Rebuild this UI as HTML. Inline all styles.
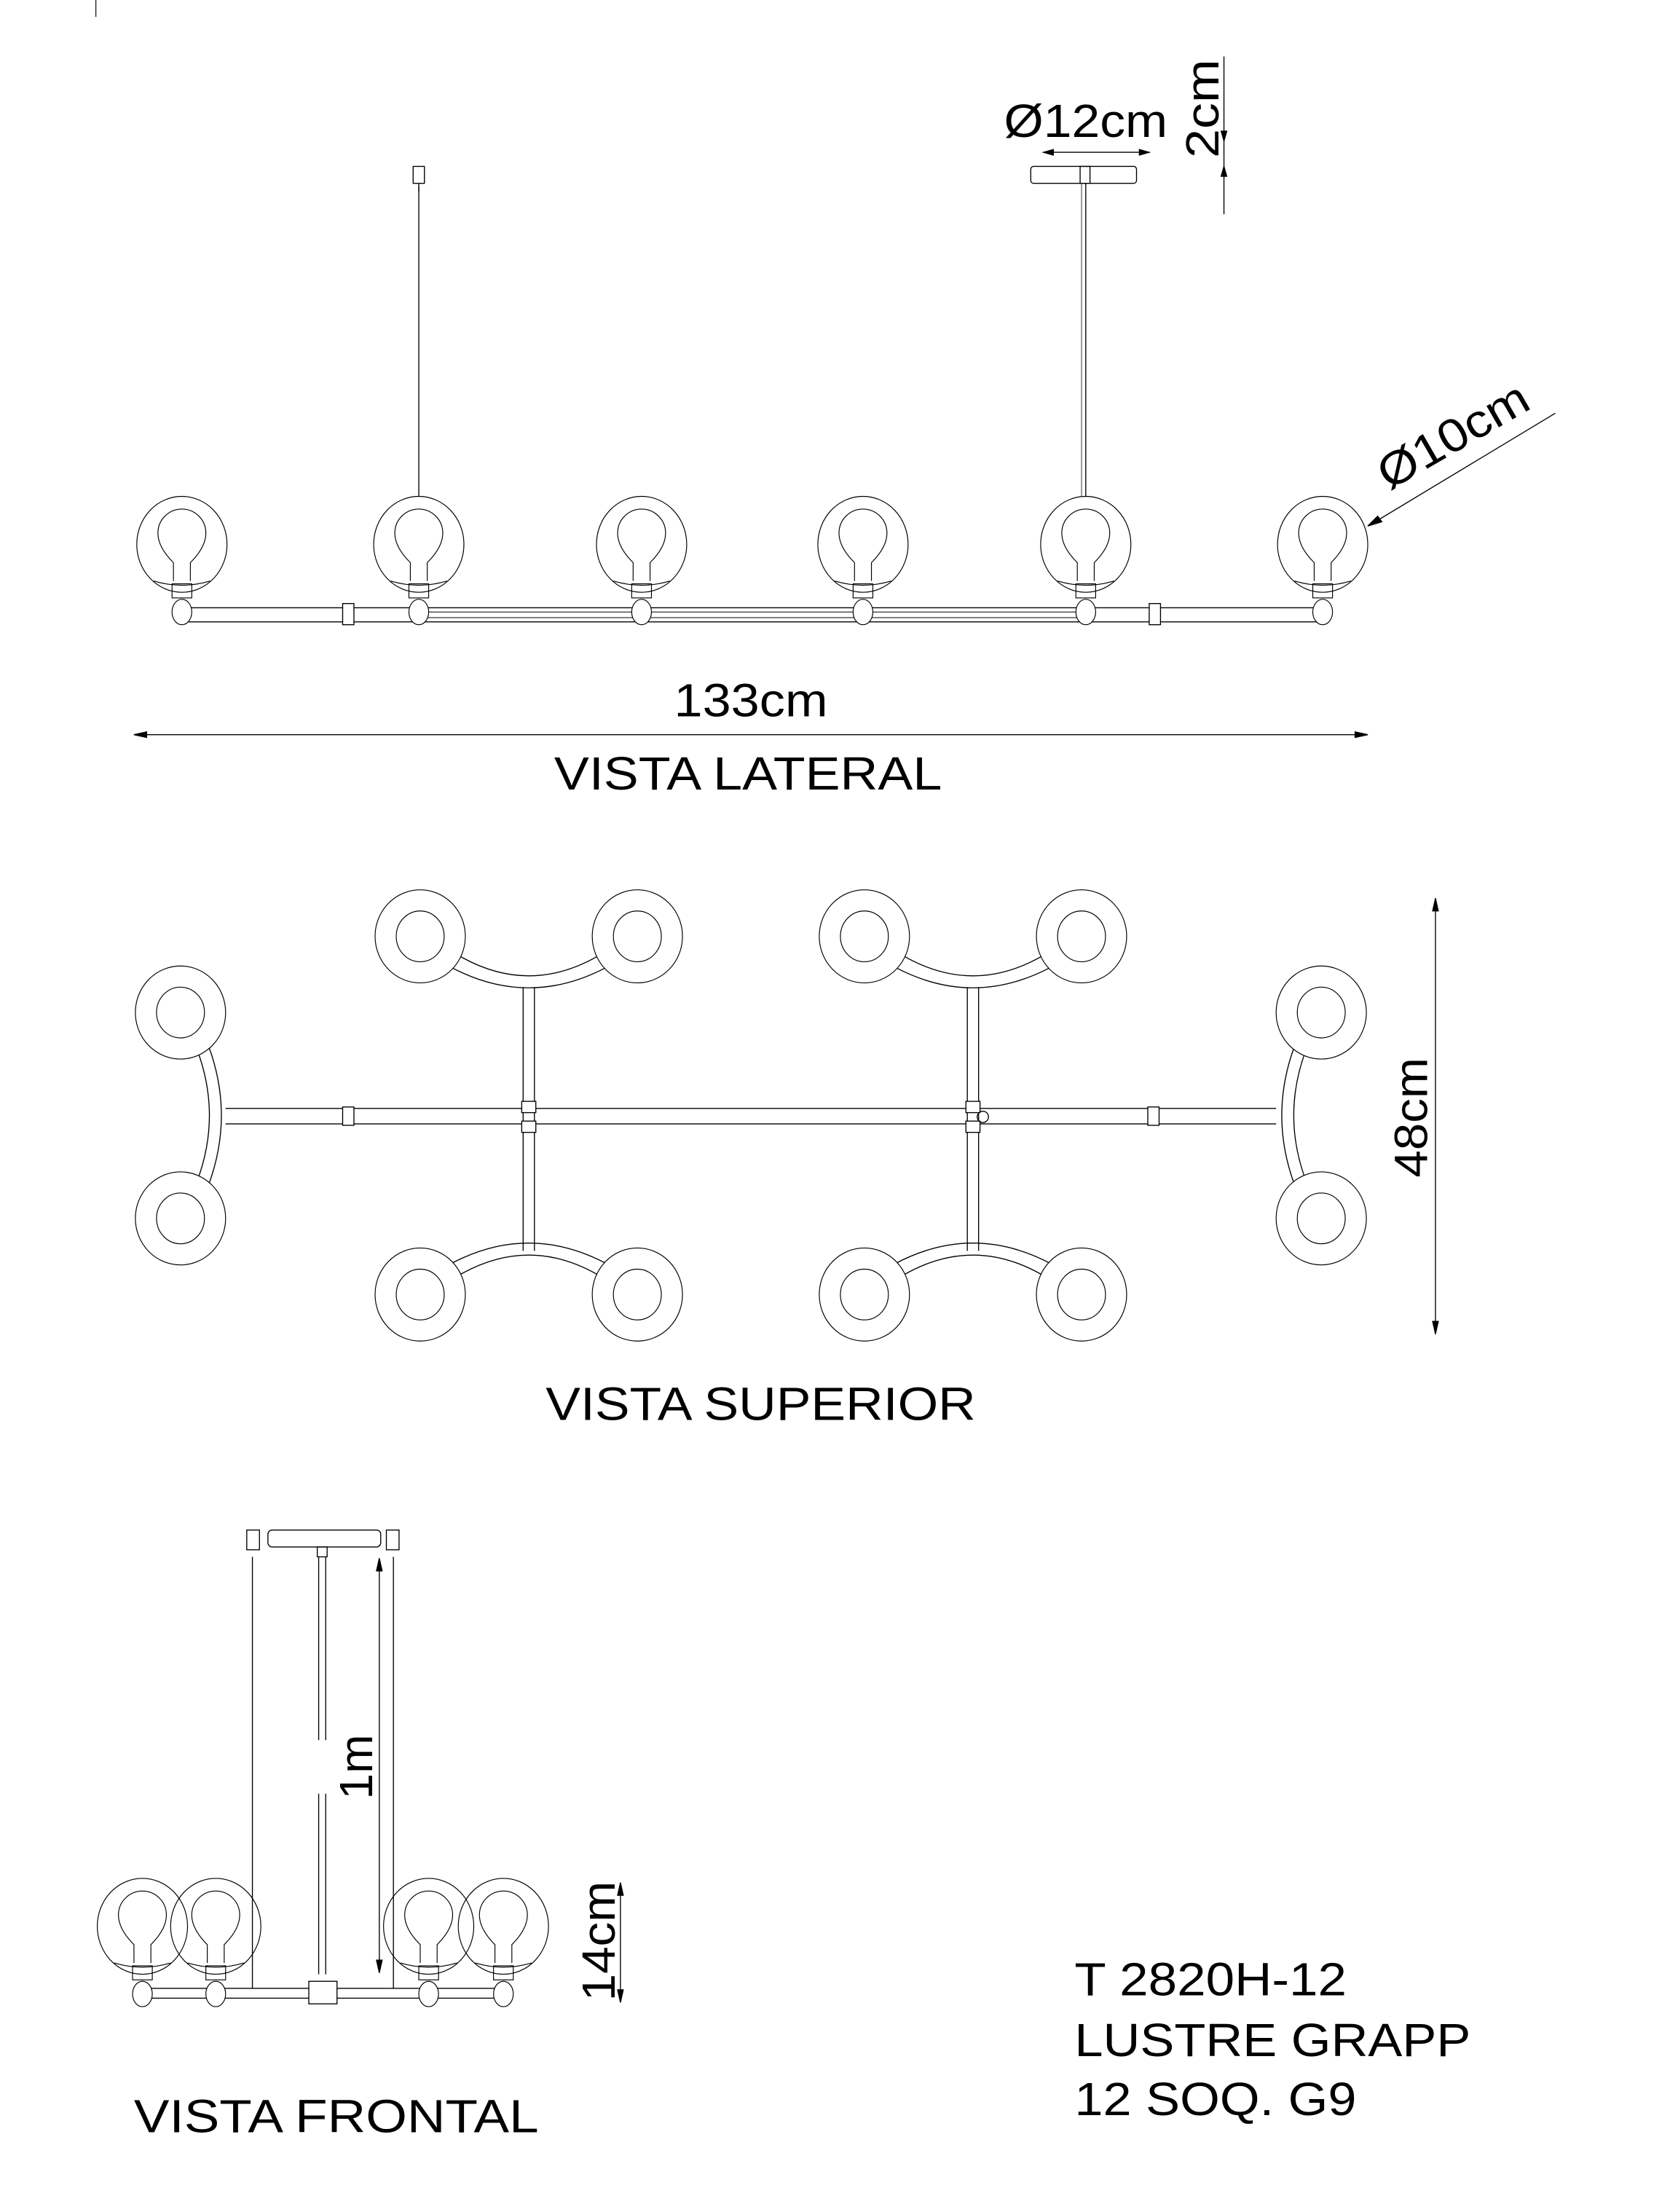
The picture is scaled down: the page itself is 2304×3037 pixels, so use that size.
<!DOCTYPE html>
<html><head><meta charset="utf-8"><style>
html,body{margin:0;padding:0;background:#fff;}
svg{display:block;}
text{font-family:"Liberation Sans",Arial,sans-serif;fill:#000;}
</style></head><body>
<svg width="2304" height="3037" viewBox="0 0 1190 1568.6" preserveAspectRatio="none" xmlns="http://www.w3.org/2000/svg">
<defs>
<g id="lg" fill="none" stroke="#000" stroke-width="0.6">
<ellipse cx="0" cy="0" rx="32" ry="34"/>
<path d="M -6 26 L -6 13 Q -17 2 -17 -8 A 17 17 0 1 1 17 -8 Q 17 2 6 13 L 6 26"/>
<path d="M -20 26 Q 0 32 20 26"/>
<rect x="-7" y="28" width="14" height="10"/>
<ellipse cx="0" cy="48" rx="7" ry="9" fill="#fff"/>
</g>
<g id="tg" fill="#fff" stroke="#000" stroke-width="0.6">
<ellipse cx="0" cy="0" rx="32" ry="33"/>
<ellipse cx="0" cy="0" rx="17" ry="18"/>
</g>
</defs>
<line x1="68" y1="0" x2="68" y2="12" stroke="#000" stroke-width="0.6"/>

<!-- VISTA LATERAL -->
<g fill="none" stroke="#000" stroke-width="0.7">
<line x1="297" y1="132" x2="297" y2="352"/>
<rect x="293" y="118" width="8" height="12"/>
<line x1="297" y1="130" x2="297" y2="136"/>
<line x1="770" y1="130" x2="770" y2="352"/>
<line x1="767" y1="130" x2="767" y2="352" stroke-width="0.4"/>
<rect x="731" y="118" width="75" height="12" rx="2"/>
<rect x="766" y="118" width="7" height="12"/>
<line x1="130" y1="431" x2="940" y2="431"/>
<line x1="130" y1="441" x2="940" y2="441"/>
<line x1="297" y1="434" x2="770" y2="434" stroke-width="0.5"/>
<line x1="297" y1="438" x2="770" y2="438" stroke-width="0.5"/>
<rect x="243" y="428" width="8" height="15" fill="#fff"/>
<rect x="815" y="428" width="8" height="15" fill="#fff"/>
<!-- dims -->
<line x1="868" y1="40" x2="868" y2="152"/>
<line x1="740" y1="108" x2="815" y2="108"/>
<path d="M740 108 l7 -2 v4 z M815 108 l-7 -2 v4 z" fill="#000"/>
<path d="M868 100 l-2 -7 h4 z M868 118 l-2 7 h4 z" fill="#000"/>
<line x1="1103" y1="293" x2="972" y2="372"/>
<path d="M970 373 l7 -7 l3 4 z" fill="#000"/>
<line x1="95" y1="521" x2="970" y2="521"/>
<path d="M95 521 l9 -2 v4 z M970 521 l-9 -2 v4 z" fill="#000"/>
</g>
<use href="#lg" x="129" y="386"/>
<use href="#lg" x="297" y="386"/>
<use href="#lg" x="455" y="386"/>
<use href="#lg" x="612" y="386"/>
<use href="#lg" x="770" y="386"/>
<use href="#lg" x="938" y="386"/>
<text x="712" y="97" font-size="33" textLength="116" lengthAdjust="spacingAndGlyphs">Ø12cm</text>
<text transform="translate(864,112) rotate(-90)" font-size="33" textLength="70" lengthAdjust="spacingAndGlyphs">2cm</text>
<text transform="translate(985,348) rotate(-30)" font-size="33" textLength="118" lengthAdjust="spacingAndGlyphs">Ø10cm</text>
<text x="478" y="508" font-size="33" textLength="109" lengthAdjust="spacingAndGlyphs">133cm</text>
<text x="393" y="560" font-size="33" textLength="275" lengthAdjust="spacingAndGlyphs">VISTA LATERAL</text>

<!-- VISTA SUPERIOR -->
<g fill="none" stroke="#000" stroke-width="0.7">
<path d="M148 742 Q166 791 148 840"/>
<path d="M140 745 Q157 791 140 837"/>
<line x1="160" y1="786" x2="905" y2="786"/>
<line x1="160" y1="797" x2="905" y2="797"/>
<path d="M1030 0"/>
<path d="M918 742 Q900 791 918 840"/>
<path d="M926 745 Q909 791 926 837"/>
<path d="M320 686 Q375 715 430 686"/><path d="M326 678 Q375 706 424 678"/>
<path d="M635 686 Q690 715 745 686"/><path d="M641 678 Q690 706 739 678"/>
<path d="M320 896 Q375 867 430 896"/><path d="M326 904 Q375 876 424 904"/>
<path d="M635 896 Q690 867 745 896"/><path d="M641 904 Q690 876 739 904"/>
<line x1="371" y1="700" x2="371" y2="887"/><line x1="379" y1="700" x2="379" y2="887"/>
<line x1="686" y1="700" x2="686" y2="887"/><line x1="694" y1="700" x2="694" y2="887"/>
<rect x="243" y="785" width="8" height="13" fill="#fff"/>
<rect x="814" y="785" width="8" height="13" fill="#fff"/>
<rect x="370" y="781" width="10" height="8" fill="#fff"/>
<rect x="370" y="795" width="10" height="8" fill="#fff"/>
<rect x="685" y="781" width="10" height="8" fill="#fff"/>
<rect x="685" y="795" width="10" height="8" fill="#fff"/>
<circle cx="697" cy="792" r="4"/>
<line x1="1018" y1="637" x2="1018" y2="946"/>
<path d="M1018 637 l-2 9 h4 z M1018 946 l-2 -9 h4 z" fill="#000"/>
</g>
<use href="#tg" x="128" y="718"/><use href="#tg" x="128" y="864"/>
<use href="#tg" x="298" y="664"/><use href="#tg" x="452" y="664"/>
<use href="#tg" x="613" y="664"/><use href="#tg" x="767" y="664"/>
<use href="#tg" x="298" y="918"/><use href="#tg" x="452" y="918"/>
<use href="#tg" x="613" y="918"/><use href="#tg" x="767" y="918"/>
<use href="#tg" x="937" y="718"/><use href="#tg" x="937" y="864"/>
<text transform="translate(1012,835) rotate(-90)" font-size="33" textLength="85" lengthAdjust="spacingAndGlyphs">48cm</text>
<text x="387" y="1007" font-size="33" textLength="305" lengthAdjust="spacingAndGlyphs">VISTA SUPERIOR</text>

<!-- VISTA FRONTAL -->
<g fill="none" stroke="#000" stroke-width="0.7">
<rect x="190" y="1085" width="80" height="12" rx="3"/>
<rect x="175" y="1085" width="9" height="14"/>
<rect x="274" y="1085" width="9" height="14"/>
<line x1="179" y1="1104" x2="179" y2="1410"/>
<line x1="279" y1="1104" x2="279" y2="1410"/>
<rect x="225" y="1097" width="7" height="7"/>
<line x1="226" y1="1104" x2="226" y2="1234"/><line x1="231" y1="1104" x2="231" y2="1234"/>
<line x1="226" y1="1272" x2="226" y2="1400"/><line x1="231" y1="1272" x2="231" y2="1400"/>
<line x1="269" y1="1105" x2="269" y2="1399"/>
<path d="M269 1105 l-2 9 h4 z M269 1399 l-2 -9 h4 z" fill="#000"/>
<line x1="104" y1="1410" x2="354" y2="1410"/>
<line x1="104" y1="1417" x2="354" y2="1417"/>
<rect x="219" y="1405" width="20" height="16" fill="#fff"/>
<line x1="440" y1="1335" x2="440" y2="1420"/>
<path d="M440 1335 l-2 9 h4 z M440 1420 l-2 -9 h4 z" fill="#000"/>
</g>
<use href="#lg" x="101" y="1366" transform="translate(0,0)"/>
<use href="#lg" x="153" y="1366"/>
<use href="#lg" x="304" y="1366"/>
<use href="#lg" x="357" y="1366"/>
<text transform="translate(264,1276) rotate(-90)" font-size="33" textLength="46" lengthAdjust="spacingAndGlyphs">1m</text>
<text transform="translate(436,1419) rotate(-90)" font-size="33" textLength="85" lengthAdjust="spacingAndGlyphs">14cm</text>
<text x="95" y="1512" font-size="33" textLength="287" lengthAdjust="spacingAndGlyphs">VISTA FRONTAL</text>
<text x="762" y="1415" font-size="33" textLength="193" lengthAdjust="spacingAndGlyphs">T 2820H-12</text>
<text x="762" y="1458" font-size="33" textLength="281" lengthAdjust="spacingAndGlyphs">LUSTRE GRAPP</text>
<text x="762" y="1500" font-size="33" textLength="200" lengthAdjust="spacingAndGlyphs">12 SOQ. G9</text>
</svg>
</body></html>
